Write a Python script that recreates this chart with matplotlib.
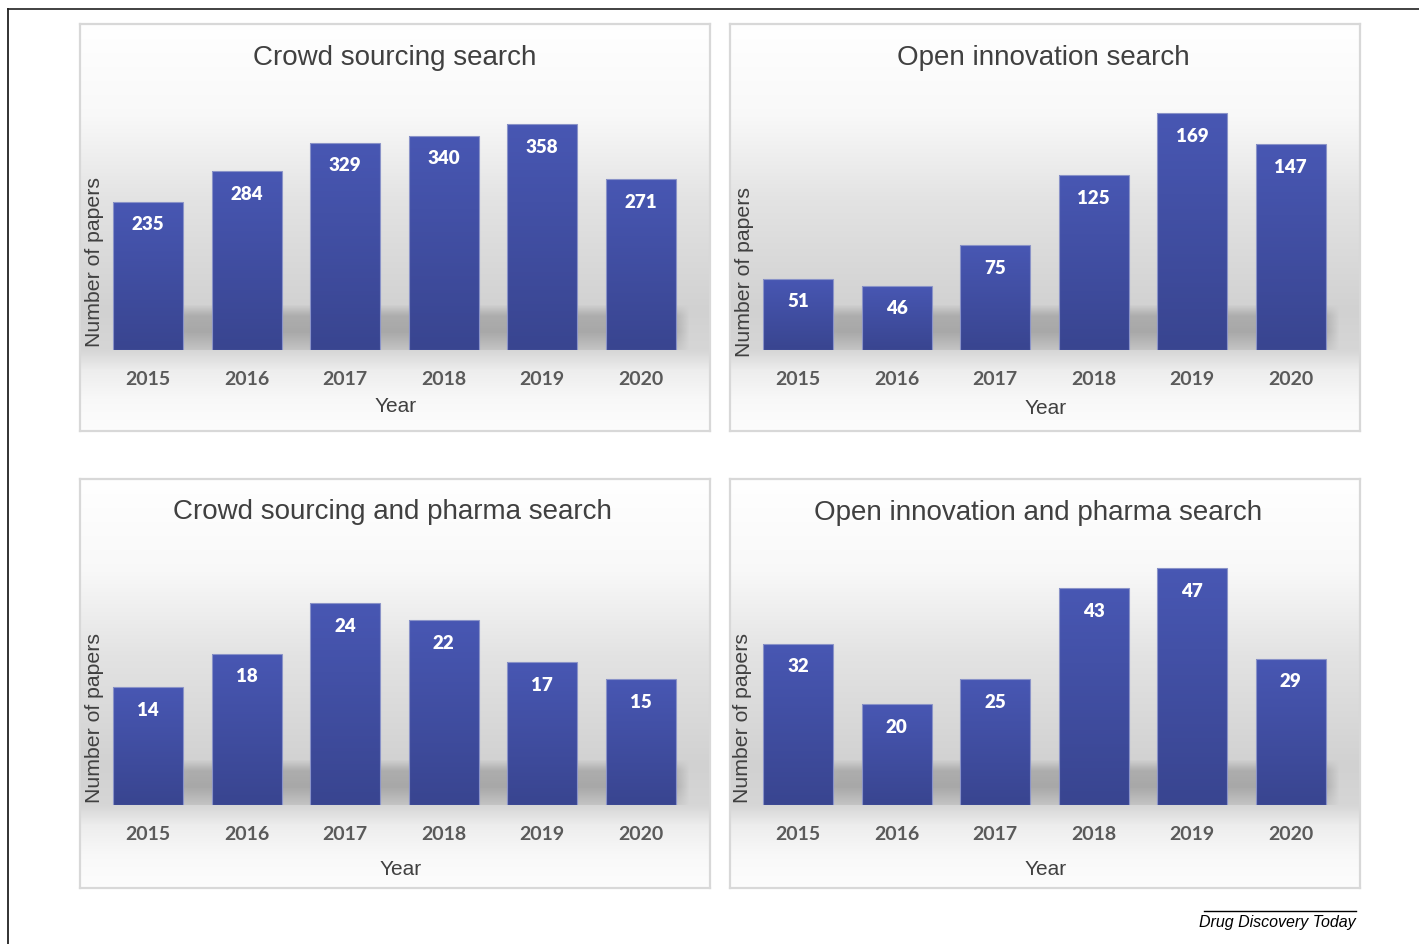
import matplotlib.pyplot as plt
import numpy as np
from matplotlib.lines import Line2D

years = ['2015', '2016', '2017', '2018', '2019', '2020']
crowd = [235, 284, 329, 340, 358, 271]
open_innov = [51, 46, 75, 125, 169, 147]
crowd_pharma = [14, 18, 24, 22, 17, 15]
open_pharma = [32, 20, 25, 43, 47, 29]

titles = ['Crowd sourcing search', 'Open innovation search',
          'Crowd sourcing and pharma search', 'Open innovation and pharma search']
series = [crowd, open_innov, crowd_pharma, open_pharma]
ymax = [400, 180, 30, 50]

W, H = 1419, 945
fig = plt.figure(figsize=(W / 100, H / 100), dpi=100)

def fx(px):
    return px / W

def fy(py):
    return 1 - py / H

# panel boxes (left, top, right, bottom) in pixels, plot areas the same way
boxes = [(80, 25, 710, 432), (730, 25, 1360, 432),
         (80, 480, 710, 889), (730, 480, 1360, 889)]
plots = [(99, 99, 690, 351), (749, 99, 1340, 351),
         (99, 554, 690, 806), (749, 554, 1340, 806)]
title_pos = [(395, 58), (1043, 58), (392, 512), (1038, 513)]
ylab_pos = [(94, 262), (745, 272), (94, 718), (742, 718)]
xlab_pos = [(396, 407), (1046, 409), (401, 870), (1046, 870)]

tick_font = 'Lato'
title_font = 'Liberation Sans'

for k in range(4):
    bl, bt, br, bb = boxes[k]
    bg = fig.add_axes([fx(bl), fy(bb), fx(br - bl), (bb - bt) / H], zorder=0)
    # vertical background gradient, white -> grey at baseline -> white
    rows = np.arange(bt, bb)
    base = plots[k][3]
    stops_y = [bt, bt + 90, base - 150, base - 40, base, base + 20, base + 50, bb]
    stops_v = [1.0, 0.975, 0.89, 0.82, 0.84, 0.93, 0.975, 0.99]
    v = np.interp(rows, stops_y, stops_v)
    img = np.repeat(v[:, None], 4, axis=1)
    bg.imshow(np.dstack([img, img, img]), aspect='auto', extent=(0, 1, 0, 1))
    bg.set_xticks([])
    bg.set_yticks([])
    for s in bg.spines.values():
        s.set_color('#d8d8d8')
        s.set_linewidth(1.6)

    pl, pt, pr, pb = plots[k]
    ax = fig.add_axes([fx(pl), fy(pb), fx(pr - pl), (pb - pt) / H], zorder=1)
    ax.patch.set_alpha(0)
    x = np.arange(len(years))
    vals = series[k]

    # soft shadow band behind the bars
    sh_h = 0.18 * ymax[k]
    ny, nx = 40, 200
    a_y = np.interp(np.linspace(0, 1, ny), [0, 0.25, 0.6, 1], [0, 0.3, 0.36, 0.15])
    a_x = np.interp(np.linspace(0, 1, nx), [0, 0.12, 0.97, 1], [0.2, 1, 1, 0])
    alpha = a_y[:, None] * a_x[None, :]
    shadow = np.zeros((ny, nx, 4))
    shadow[..., :3] = 0.35
    shadow[..., 3] = alpha
    ax.imshow(shadow, aspect='auto', extent=(-0.3, 5.5, 0, sh_h),
              origin='upper', zorder=1, interpolation='bilinear')

    grad = np.linspace(0, 1, 64)[:, None]
    top_c = np.array([0x48, 0x57, 0xb3]) / 255
    bot_c = np.array([0x39, 0x45, 0x90]) / 255
    bar_img = top_c[None, None, :] * (1 - grad[..., None]) + bot_c[None, None, :] * grad[..., None]
    bars = ax.bar(x, vals, width=0.71, color='none', edgecolor='#8a93c8',
                  linewidth=0.8, zorder=3)
    for b, val in zip(bars, vals):
        im = ax.imshow(bar_img, aspect='auto', origin='upper',
                       extent=(b.get_x(), b.get_x() + b.get_width(), 0, val),
                       zorder=2)
        im.set_clip_path(b)
        ax.annotate(str(val), (b.get_x() + b.get_width() / 2, val),
                    xytext=(0, -22), textcoords='offset pixels', ha='center',
                    va='center', color='white', fontsize=13.5,
                    fontweight='heavy', family=tick_font, zorder=4)
    ax.set_xlim(-0.5, 5.5)
    ax.set_ylim(0, ymax[k])
    ax.set_xticks(x)
    ax.set_xticklabels(years, fontsize=14, color='#5a5a5a', family=tick_font,
                       fontweight='bold')
    ax.tick_params(axis='x', length=0, pad=14.5)
    ax.set_yticks([])
    for s in ax.spines.values():
        s.set_visible(False)

    tx, ty = title_pos[k]
    fig.text(fx(tx), fy(ty), titles[k], ha='center', va='center',
             fontsize=20, color='#404040', family=title_font)
    yx, yy = ylab_pos[k]
    fig.text(fx(yx), fy(yy), 'Number of papers', ha='center', va='center',
             rotation=90, fontsize=15.3, color='#404040', family=title_font)
    xx, xy = xlab_pos[k]
    fig.text(fx(xx), fy(xy), 'Year', ha='center', va='center',
             fontsize=15, color='#404040', family=title_font)

# outer frame lines and journal tag
fig.add_artist(Line2D([fx(8), 1], [fy(10), fy(10)], color='#333333', lw=1.3))
fig.add_artist(Line2D([fx(8), fx(8)], [fy(10), 0], color='#222222', lw=1.3))
fig.add_artist(Line2D([fx(1204), fx(1356)], [fy(912), fy(912)], color='black', lw=1))
fig.text(fx(1356), fy(923), 'Drug Discovery Today', ha='right', va='center',
         fontsize=11.5, style='italic', family='Liberation Sans', color='black')

fig.savefig('out.png', dpi=100)
